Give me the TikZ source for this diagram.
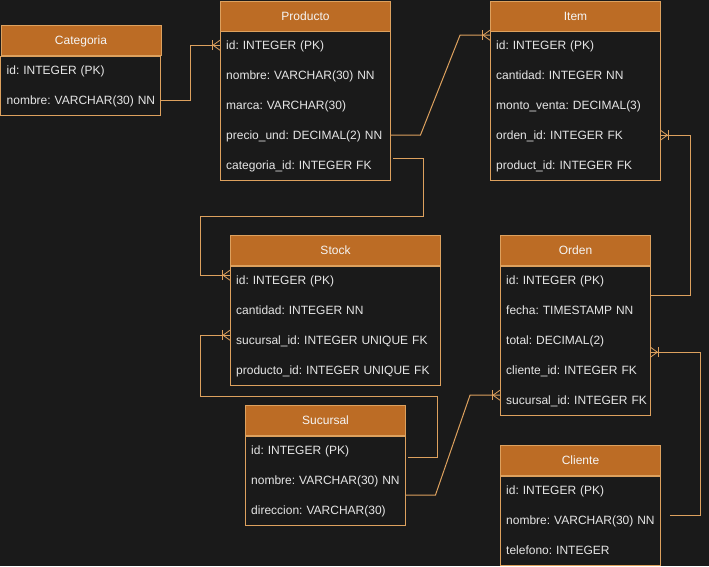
\documentclass[tikz,border=0pt]{standalone}
\usepackage{fontspec}
\setmainfont{Liberation Sans}
\usetikzlibrary{calc}
\frenchspacing
\definecolor{bg}{HTML}{1A1A1A}
\definecolor{hdrfill}{HTML}{BC6C25}
\definecolor{bord}{HTML}{DDA15E}
\definecolor{rowtext}{HTML}{E6E6E6}
\definecolor{hdrtext}{HTML}{F5F5F5}
\tikzset{
  txt/.style={font=\fontsize{12}{14}\selectfont\frenchspacing, text height=11pt, text depth=2.5pt},
  hdr/.style={txt, draw=bord, line width=1pt, fill=hdrfill, text=hdrtext, minimum width=#1, minimum height=30pt, anchor=north west, inner sep=0pt},
  fld/.style={txt, text=rowtext, anchor=north west, minimum height=30pt, inner xsep=6pt, inner ysep=0pt, text width=#1, align=left,
    execute at begin node={\hbox\bgroup\frenchspacing}, execute at end node={\egroup}},
  tbl/.style={draw=bord, line width=1pt},
  conn/.style={draw=bord, line width=1pt},
  pics/crow/.style={code={
    \draw[conn, line width=0.8pt] (0,5) -- (-7,0) -- (0,-5);
    \draw[conn, line width=0.8pt] (-8,5) -- (-8,-5);
  }}
}
\begin{document}
\begin{tikzpicture}[x=1pt,y=1pt]
\fill[bg] (0,0) rectangle (709,-566);
\useasboundingbox (0,0) rectangle (709,-566);

% Categoria
\node[hdr=160pt] (c-h) at (0.5,-25) {Categoria};
\node[fld=148pt] (c-id)  at (0.5,-55) {id: INTEGER (PK)};
\node[fld=148pt] (c-nom) at (0.5,-85) {nombre: VARCHAR(30) NN};
\draw[tbl] (c-h.south west) rectangle (c-nom.south east);

% Producto
\node[hdr=170pt] (p-h) at (220,-0.5) {Producto};
\node[fld=158pt] (p-id)  at (220,-30) {id: INTEGER (PK)};
\node[fld=158pt] (p-nom) at (220,-60) {nombre: VARCHAR(30) NN};
\node[fld=158pt] (p-mar) at (220,-90) {marca: VARCHAR(30)};
\node[fld=158pt] (p-pre) at (220,-120) {precio\_und: DECIMAL(2) NN};
\node[fld=158pt] (p-cat) at (220,-150) {categoria\_id: INTEGER FK};
\draw[tbl] (p-h.south west) rectangle (p-cat.south east);

% Item
\node[hdr=170pt] (i-h) at (490,-0.5) {Item};
\node[fld=158pt] (i-id)  at (490,-30) {id: INTEGER (PK)};
\node[fld=158pt] (i-can) at (490,-60) {cantidad: INTEGER NN};
\node[fld=158pt] (i-mon) at (490,-90) {monto\_venta: DECIMAL(3)};
\node[fld=158pt] (i-ord) at (490,-120) {orden\_id: INTEGER FK};
\node[fld=158pt] (i-pro) at (490,-150) {product\_id: INTEGER FK};
\draw[tbl] (i-h.south west) rectangle (i-pro.south east);

% Stock
\node[hdr=210pt] (s-h) at (230,-235) {Stock};
\node[fld=198pt] (s-id)  at (230,-265) {id: INTEGER (PK)};
\node[fld=198pt] (s-can) at (230,-295) {cantidad: INTEGER NN};
\node[fld=198pt] (s-suc) at (230,-325) {sucursal\_id: INTEGER UNIQUE FK};
\node[fld=198pt] (s-pro) at (230,-355) {producto\_id: INTEGER UNIQUE FK};
\draw[tbl] (s-h.south west) rectangle (s-pro.south east);

% Orden
\node[hdr=150pt] (o-h) at (500,-235) {Orden};
\node[fld=138pt] (o-id)  at (500,-265) {id: INTEGER (PK)};
\node[fld=138pt] (o-fec) at (500,-295) {fecha: TIMESTAMP NN};
\node[fld=138pt] (o-tot) at (500,-325) {total: DECIMAL(2)};
\node[fld=138pt] (o-cli) at (500,-355) {cliente\_id: INTEGER FK};
\node[fld=138pt] (o-suc) at (500,-385) {sucursal\_id: INTEGER FK};
\draw[tbl] (o-h.south west) rectangle (o-suc.south east);

% Sucursal
\node[hdr=160pt] (su-h) at (245,-405) {Sucursal};
\node[fld=148pt] (su-id)  at (245,-435) {id: INTEGER (PK)};
\node[fld=148pt] (su-nom) at (245,-465) {nombre: VARCHAR(30) NN};
\node[fld=148pt] (su-dir) at (245,-495) {direccion: VARCHAR(30)};
\draw[tbl] (su-h.south west) rectangle (su-dir.south east);

% Cliente
\node[hdr=160pt] (cl-h) at (500,-445) {Cliente};
\node[fld=148pt] (cl-id)  at (500,-475) {id: INTEGER (PK)};
\node[fld=148pt] (cl-nom) at (500,-505) {nombre: VARCHAR(30) NN};
\node[fld=148pt] (cl-tel) at (500,-535) {telefono: INTEGER};
\draw[tbl] (cl-h.south west) rectangle (cl-tel.south east);

% Connectors
% Categoria -> Producto
\draw[conn] (c-nom.east) -- ++(30,0) |- (p-id.west);
\pic at (p-id.west) {crow};

% Producto -> Item
\coordinate (e2) at ($(i-id.west)+(0,10)$);
\draw[conn] (p-pre.east) -- ++(30,0) -- ($(e2)+(-30,0)$) -- (e2);
\pic at (e2) {crow};

% Producto -> Stock
\coordinate (e3) at ($(s-id.west)+(0,5)$);
\draw[conn] ($(p-cat.east)+(3,7)$) -- ++(30,0) -- ++(0,-58) -- ++(-223,0) |- (e3);
\pic at (e3) {crow};

% Sucursal -> Stock
\coordinate (e4) at ($(s-suc.west)+(0,5)$);
\draw[conn] ($(su-id.east)+(3,-7)$) -- ++(29,0) -- ++(0,61) -- ++(-237,0) |- (e4);
\pic at (e4) {crow};

% Sucursal -> Orden
\coordinate (e5) at ($(o-suc.west)+(0,5)$);
\draw[conn] ($(su-nom.east)+(0,-15)$) -- ++(30,0) -- ($(e5)+(-30,0)$) -- (e5);
\pic at (e5) {crow};

% Orden -> Item
\draw[conn] ($(o-id.east)+(0,-15)$) -- ++(40,0) |- (i-ord.east);
\pic[rotate=180] at (i-ord.east) {crow};

% Cliente -> Orden
\coordinate (e7) at ($(o-cli.east)+(0,18)$);
\draw[conn] ($(cl-nom.east)+(10,5)$) -- ++(30,0) |- (e7);
\pic[rotate=180] at (e7) {crow};
\end{tikzpicture}
\end{document}
